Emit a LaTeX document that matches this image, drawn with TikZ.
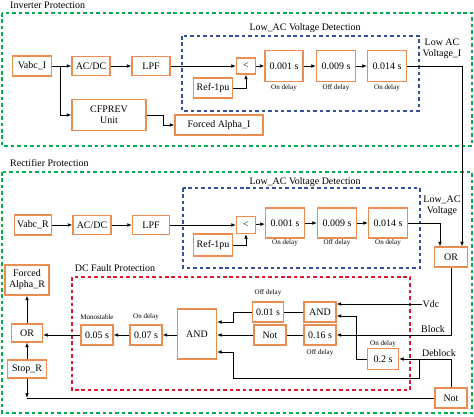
\documentclass[tikz,border=0pt]{standalone}
\usepackage{fontspec}
\setmainfont{Liberation Serif}
\usetikzlibrary{arrows.meta}
\definecolor{boxorange}{RGB}{235,140,80}
\definecolor{zonegreen}{RGB}{0,176,80}
\definecolor{zoneblue}{RGB}{50,82,160}
\definecolor{zonered}{RGB}{225,25,45}
\newcommand\boxfont{\fontsize{8.5}{9.5}\selectfont}
\newcommand\notefont{\fontsize{6}{7}\selectfont}

\begin{document}
\begin{tikzpicture}[x=0.03cm,y=-0.03cm,
 blk/.style 2 args={draw=boxorange,line width=0.9pt,fill=white,inner sep=1pt,align=center,font=\boxfont,minimum width=#1*0.03cm,minimum height=#2*0.03cm},
 lbl/.style={inner sep=0pt,align=center,font=\boxfont},
 note/.style={inner sep=0pt,font=\notefont},
 zone/.style={dash pattern=on 3pt off 2.5pt,line width=1.6pt},
 line/.style={line width=0.7pt},
 arr/.style={line width=0.7pt,-{Latex[length=4pt,width=3.2pt]}}]
\useasboundingbox (0,0) rectangle (474,416);

 \draw[zone,zonegreen] (2,13) rectangle (472,146);
 \draw[zone,zonegreen] (2,172) rectangle (472,413);
 \draw[zone,zoneblue] (182,36) rectangle (419,111);
 \draw[zone,zoneblue] (183,188) rectangle (420,268);
 \draw[zone,zonered] (72,277) rectangle (410,390);

 \node[lbl,anchor=west] (invlbl) at (10,5) {Inverter Protection};
 \node[lbl,anchor=west] (reclbl) at (10,163) {Rectifier Protection};
 \node[lbl] (detI) at (305,28) {Low\_AC Voltage Detection};
 \node[lbl] (detR) at (305,182) {Low\_AC Voltage Detection};
 \node[lbl] (dclbl) at (115,268) {DC Fault Protection};
 \node[lbl] (lowI) at (442,49) {Low AC\\Voltage\_I};
 \node[lbl] (lowR) at (442,206) {Low\_AC\\Voltage};

 \node[blk={39}{20}] (vabcI) at (32,66) {Vabc\_I};
 \node[blk={38}{19}] (acdcI) at (91,66) {AC/DC};
 \node[blk={38}{19}] (lpfI) at (151,66) {LPF};
 \node[blk={19}{16}] (cmpI) at (246,66) {<};
 \node[blk={39}{20}] (refI) at (213,88) {Ref-1pu};
 \node[blk={38}{31}] (onI) at (284,66) {0.001 s};
 \node[blk={39}{31}] (offI) at (336,66) {0.009 s};
 \node[blk={39}{31}] (onbI) at (387,66) {0.014 s};
 \node[blk={74}{31}] (cfprev) at (109,115) {CFPREV\\Unit};
 \node[blk={88}{20}] (alphaI) at (219,125) {Forced Alpha\_I};
 \node[note] at (284,88) {On delay};
 \node[note] at (336,88) {Off delay};
 \node[note] at (387,88) {On delay};

 \node[blk={37}{20}] (vabcR) at (33,225) {Vabc\_R};
 \node[blk={38}{19}] (acdcR) at (92,225) {AC/DC};
 \node[blk={37}{19}] (lpfR) at (151,225) {LPF};
 \node[blk={19}{17}] (cmpR) at (246,225) {<};
 \node[blk={39}{22}] (refR) at (213,245) {Ref-1pu};
 \node[blk={39}{30}] (onR) at (285,223) {0.001 s};
 \node[blk={39}{30}] (offR) at (337,223) {0.009 s};
 \node[blk={39}{30}] (onbR) at (388,223) {0.014 s};
 \node[note] at (285,243) {On delay};
 \node[note] at (337,243) {Off delay};
 \node[note] at (388,243) {On delay};

 \node[blk={33}{20}] (orR) at (451,257) {OR};
 \node[blk={32}{20}] (notR) at (451,398) {Not};
 \node[blk={44}{30}] (alphaR) at (27,280) {Forced\\Alpha\_R};
 \node[blk={31}{18}] (orL) at (27,333) {OR};
 \node[blk={39}{18}] (stopR) at (27,369) {Stop\_R};
 \node[blk={32}{20}] (mono) at (97,335) {0.05 s};
 \node[blk={32}{20}] (ondl) at (146,335) {0.07 s};
 \node[blk={39}{50}] (andB) at (197,334) {AND};
 \node[blk={31}{20}] (offA) at (268,312) {0.01 s};
 \node[blk={32}{20}] (notM) at (270,335) {Not};
 \node[blk={32}{20}] (andS) at (320,312) {AND};
 \node[blk={32}{20}] (offB) at (320,335) {0.16 s};
 \node[blk={31}{21}] (onC) at (383,359) {0.2 s};
 \node[note] at (97,317) {Monostable};
 \node[note] at (146,317) {On delay};
 \node[note] at (268,293) {Off delay};
 \node[note] at (320,353) {Off delay};
 \node[note] at (383,344) {On delay};
 \node[lbl] (vdc) at (431,304) {Vdc};
 \node[lbl] (blk) at (433,329) {Block};
 \node[lbl] (deblk) at (439,353) {Deblock};

 \draw[arr] (vabcI) -- (acdcI);
 \draw[arr] (acdcI) -- (lpfI);
 \draw[arr] (lpfI) -- (cmpI);
 \draw[arr] (refI.east) -| (cmpI.south);
 \draw[arr] (cmpI) -- (onI);
 \draw[arr] (onI) -- (offI);
 \draw[arr] (offI) -- (onbI);
 \draw[arr] (60,0 |- vabcI.east) |- (cfprev.west);
 \draw[arr] (cfprev.east) -- (163,0 |- cfprev.east) |- (alphaI.west);
 \draw[arr] (onbI.east) -| (462,0 |- orR.north);

 \draw[arr] (vabcR) -- (acdcR);
 \draw[arr] (acdcR) -- (lpfR);
 \draw[arr] (lpfR) -- (cmpR);
 \draw[arr] (refR.east) -| (cmpR.south);
 \draw[arr] (cmpR) -- (onR);
 \draw[arr] (onR) -- (offR);
 \draw[arr] (offR) -- (onbR);
 \draw[arr] (onbR.east) -| (440,0 |- orR.north);

 \draw[arr] (orR.south) |- (offB.east);
 \draw[arr] (vdc.west) -- (andS.east |- vdc.west);
 \draw[arr] (notR.north) |- (onC.east);
 \draw[arr] (419,0 |- onC.east) |- (233,378) |- (andB.east |- 0,352);
 \draw[arr] (onC.west) -| (356,316) -- (andS.east |- 0,316);
 \draw[line] (andS) -- (offA);
 \draw[line] (offB) -- (notM);
 \draw[arr] (offA.west) -| (233,322) -- (andB.east |- 0,322);
 \draw[arr] (notM.west) -- (andB.east |- notM.west);
 \draw[arr] (andB.west |- ondl.east) -- (ondl.east);
 \draw[arr] (ondl) -- (mono);
 \draw[arr] (mono.west) -- (orL.east |- mono.west);
 \draw[arr] (orL) -- (alphaR);
 \draw[arr] (stopR) -- (orL);
 \coordinate (btm) at (stopR.south |- notR.west);
 \draw[arr] (stopR.south) -- (btm);
 \draw[line] (notR.west) -- (btm);
\end{tikzpicture}
\end{document}
